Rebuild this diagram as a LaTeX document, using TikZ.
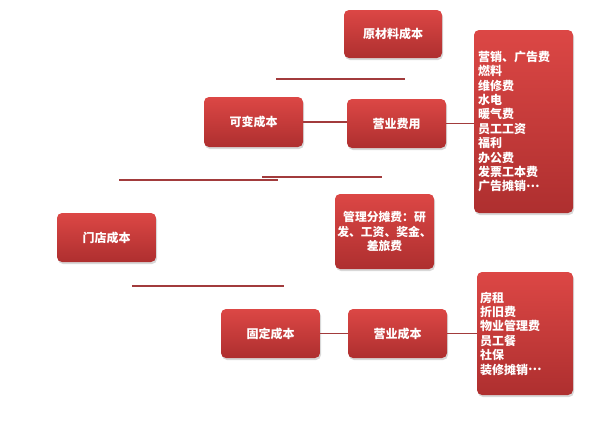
\documentclass[tikz,border=0pt]{standalone}
\usepackage{fontspec}
\setmainfont{Noto Sans CJK SC}
\usetikzlibrary{shadows}
\definecolor{boxtop}{HTML}{DC4745}
\definecolor{boxbot}{HTML}{AE2F2F}
\definecolor{linered}{HTML}{A23B3C}
\newcommand{\middots}{\raisebox{0.3em}{…}}
\tikzset{
  redbox/.style={rounded corners=5pt, top color=boxtop, bottom color=boxbot, draw=none,
    drop shadow={opacity=0.3, shadow xshift=1pt, shadow yshift=-2pt},
    text=white, font=\fontsize{12}{14.4}\selectfont\bfseries, inner sep=0pt,
    minimum width=99pt, minimum height=49pt},
  listbox/.style={redbox, align=left, inner xsep=4pt, text width=91pt},
  link/.style={draw=linered, line width=1.8pt},
}
\begin{document}
\begin{tikzpicture}[x=1pt,y=-1pt]
\useasboundingbox (0,0) rectangle (597,424);
\fill[white] (0,0) rectangle (597,424);
\node[redbox, minimum width=98pt, minimum height=48pt] (ycl) at (393,34) {原材料成本};
\node[redbox, minimum height=50pt] (kb) at (253.5,122) {可变成本};
\node[redbox] (yf) at (396.5,123.5) {营业费用};
\node[listbox, minimum height=183pt] (big1) at (523.5,121.5) {营销、广告费\\燃料\\维修费\\水电\\暖气费\\员工工资\\福利\\办公费\\发票工本费\\广告摊销\middots};
\node[redbox] (md) at (106.5,237.5) {门店成本};
\node[redbox, minimum height=75pt, align=center, text width=97pt, inner xsep=1pt, font=\fontsize{11.8}{14.4}\selectfont\bfseries] (gl) at (384.5,231.5) {管理分摊费：研\\发、工资、奖金、\\差旅费};
\node[redbox] (gd) at (270.5,333.5) {固定成本};
\node[redbox] (yc) at (397.5,333.5) {营业成本};
\node[listbox, minimum width=96pt, text width=90pt, inner xsep=3pt, minimum height=123pt] (big2) at (525,333.5) {房租\\折旧费\\物业管理费\\员工餐\\社保\\装修摊销\middots};
% connectors
\draw[link] (kb.east) -- (yf.west |- kb.east);
\draw[link] (yf.east) -- (big1.west |- yf.east);
\draw[link] (gd.east) -- (yc.west);
\draw[link] (yc.east) -- (big2.west |- yc.east);
% free lines
\coordinate (l1a) at (276,79); \coordinate (l1b) at (405,79);
\coordinate (l2a) at (119,180); \coordinate (l2b) at (278,180);
\coordinate (l3a) at (262,177); \coordinate (l3b) at (382,177);
\coordinate (l4a) at (132,286); \coordinate (l4b) at (284,286);
\draw[link] (l1a) -- (l1b);
\draw[link] (l2a) -- (l2b);
\draw[link] (l3a) -- (l3b);
\draw[link] (l4a) -- (l4b);
\end{tikzpicture}
\end{document}
